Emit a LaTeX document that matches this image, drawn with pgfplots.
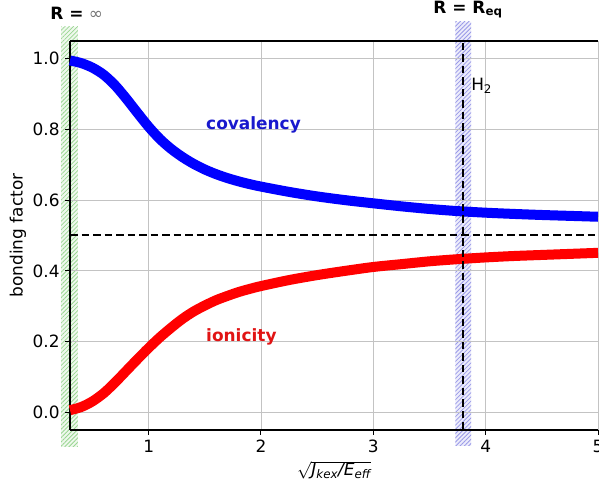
\documentclass[border=0pt]{standalone}
\usepackage{pgfplots}
\pgfplotsset{compat=1.18}
\usepackage{fontspec}
\setmainfont{DejaVu Sans}
\usetikzlibrary{patterns.meta}
\definecolor{bandgreen}{RGB}{120,200,110}
\definecolor{bandblue}{RGB}{120,120,225}
\definecolor{covtext}{RGB}{25,25,205}
\definecolor{iontext}{RGB}{225,20,20}
\definecolor{gridgray}{RGB}{195,195,195}

\begin{document}
\fontsize{17}{20}\selectfont
\begin{tikzpicture}
\begin{axis}[
  set layers,
  scale only axis,
  width=528bp, height=389bp,
  xmin=0.3, xmax=5, ymin=-0.05, ymax=1.05,
  xtick={1,2,3,4,5},
  ytick={0,0.2,0.4,0.6,0.8,1.0},
  yticklabel style={/pgf/number format/.cd, fixed, fixed zerofill, precision=1},
  /pgf/number format/assume math mode=true,
  tick label style={font=\fontsize{17}{20}\selectfont},
  label style={font=\fontsize{17}{20}\selectfont},
  axis x line*=box, axis y line*=left,
  axis line style={black, line width=2.2bp, -},
  tick align=outside, tick pos=left,
  major tick length=4.5bp,
  tick style={black, line width=1bp},
  grid=major,
  major grid style={gridgray, line width=0.9bp},
  clip=false,
  xlabel={$\sqrt{\mbox{\itshape J\textsubscript{kex}/E\textsubscript{eff}}}$},
  ylabel={bonding factor},
  xlabel style={at={(axis description cs:0.5,-0.103)}, anchor=center},
  ylabel style={at={(axis description cs:-0.0985,0.5)}, anchor=center},
]
% hatched bands: R = infinity and R = R_eq
\addplot[on layer=axis background, draw=none, forget plot,
  preaction={fill=bandgreen, fill opacity=0.12},
  pattern={Lines[angle=45, distance=3bp, line width=0.8bp]}, pattern color=bandgreen!75]
  coordinates {(0.22,-0.098) (0.371,-0.098) (0.371,1.090) (0.22,1.090) (0.22,-0.098)};
\addplot[on layer=axis background, draw=none, forget plot,
  preaction={fill=bandblue, fill opacity=0.14},
  pattern={Lines[angle=45, distance=3bp, line width=0.8bp]}, pattern color=bandblue!75]
  coordinates {(3.73,-0.095) (3.87,-0.095) (3.87,1.104) (3.73,1.104) (3.73,-0.095)};

% half-half line
\addplot[black, line width=2bp, dash pattern=on 7.5bp off 4bp] coordinates {(0.3,0.5) (5,0.5)};

% covalency
\addplot[blue, line width=10bp, smooth, line cap=butt] coordinates {
  (0.30,0.995) (0.40,0.9875) (0.50,0.9745) (0.60,0.9545) (0.70,0.925)
  (0.80,0.8875) (0.90,0.847) (1.00,0.8075) (1.10,0.773) (1.20,0.745)
  (1.30,0.722) (1.40,0.7027) (1.50,0.6867) (1.60,0.6735) (1.70,0.6625)
  (1.80,0.6532) (1.90,0.6452) (2.00,0.6383) (2.25,0.6233) (2.50,0.6105)
  (2.75,0.600) (3.00,0.591) (3.25,0.5825) (3.50,0.575) (3.75,0.569)
  (4.00,0.5645) (4.25,0.561) (4.50,0.558) (4.75,0.5555) (5.00,0.553)
};
% ionicity
\addplot[red, line width=10bp, smooth, line cap=butt] coordinates {
  (0.30,0.006) (0.40,0.015) (0.50,0.031) (0.60,0.054) (0.70,0.084)
  (0.80,0.117) (0.90,0.150) (1.00,0.182) (1.10,0.212) (1.20,0.239)
  (1.30,0.264) (1.40,0.285) (1.50,0.302) (1.60,0.317) (1.70,0.329)
  (1.80,0.340) (1.90,0.349) (2.00,0.357) (2.25,0.374) (2.50,0.388)
  (2.75,0.400) (3.00,0.411) (3.25,0.419) (3.50,0.427) (3.75,0.433)
  (4.00,0.438) (4.25,0.442) (4.50,0.445) (4.75,0.448) (5.00,0.451)
};

% equilibrium distance of H2
\addplot[black, line width=2.2bp, dash pattern=on 7.5bp off 4bp] coordinates {(3.8,-0.05) (3.8,1.05)};

\node[anchor=base] at (axis cs:0.36,1.112) {\textbf{R =} {\color{black!55}∞}};
\node[anchor=base] at (axis cs:3.843,1.129) {\textbf{R = R\textsubscript{eq}}};
\node[anchor=base west, inner sep=0pt] at (axis cs:3.87,0.909) {H\textsubscript{2}};
\node[anchor=base west, inner sep=0pt, text=covtext] at (axis cs:1.511,0.801) {\textbf{covalency}};
\node[anchor=base west, inner sep=0pt, text=iontext] at (axis cs:1.511,0.199) {\textbf{ionicity}};
\coordinate (sw) at (rel axis cs:0,0);
\coordinate (ne) at (rel axis cs:1,1);
\end{axis}
\pgfresetboundingbox
\path[use as bounding box] ([shift={(-70bp,-56bp)}]sw) rectangle ([shift={(1bp,41bp)}]ne);
\end{tikzpicture}
\end{document}
